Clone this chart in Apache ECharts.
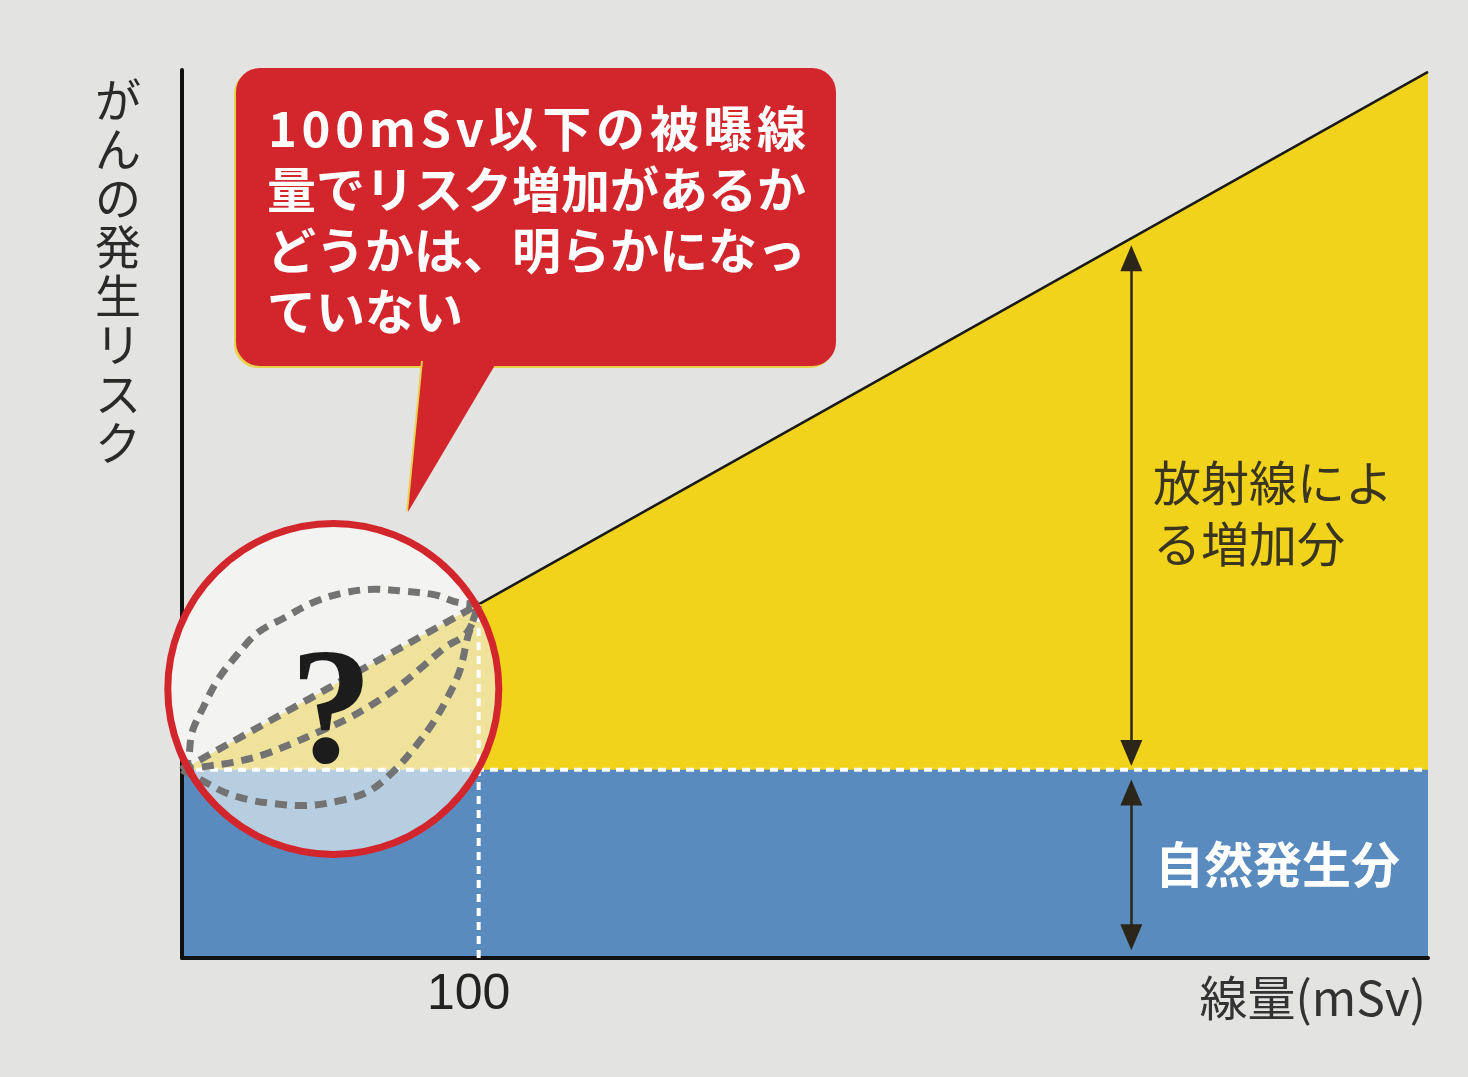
<!DOCTYPE html>
<html><head><meta charset="utf-8">
<script src="https://cdn.jsdelivr.net/npm/echarts@6/dist/echarts.min.js"></script>
<style>html,body{margin:0;padding:0;background:#e3e3e1}#chart{width:1468px;height:1077px}</style>
</head><body><div id="chart"></div>
<script>
// ---------------- data ----------------
const doseTickValues = [100];
const doseMin = 0, doseMax = 420;
const riskMin = 0, riskMax = 4.72;
const naturalDose = [0, 420];
const naturalRisk = [1, 1];
const lntDose = [0, 100, 420];
const lntRisk = [1, 1.88, 4.71];
const thresholdDose = [100, 100];
const thresholdRisk = [0, 1.88];
// low-dose model curves inside the magnifier
const supraDose = [0, 2, 3.4, 7.1, 12.1, 18.5, 25.6, 34.7, 44.2, 54.3, 65, 74.5, 85.3, 93, 100];
const supraRisk = [1, 1.05, 1.2, 1.33, 1.48, 1.61, 1.73, 1.81, 1.89, 1.94, 1.96, 1.95, 1.93, 1.89, 1.88];
const lowLntDose = [0, 100];
const lowLntRisk = [1, 1.88];
const subDose = [0, 8.8, 17.2, 27.3, 37.1, 45.8, 55.6, 64.4, 72.8, 81.2, 88.6, 96.1, 100];
const subRisk = [1, 1.02, 1.04, 1.08, 1.14, 1.2, 1.27, 1.35, 1.44, 1.55, 1.65, 1.73, 1.88];
const hormDose = [0, 8.4, 14.5, 22.9, 31.3, 40.8, 54.3, 63.4, 71.8, 78.5, 84.6, 89.7, 93.7, 96.4, 100];
const hormRisk = [1, 0.93, 0.88, 0.84, 0.82, 0.81, 0.84, 0.89, 1.0, 1.12, 1.25, 1.39, 1.53, 1.71, 1.88];
// double arrows (symbol centres)
const arrowDose = 320;
const excessArrowRisk = [3.72, 1.09];
const naturalArrowRisk = [0.88, 0.11];
// texts
const yTitle = 'がんの発生リスク';
const xTitle = '線量(mSv)';
const bubbleFirstLine = '100mSv以下の被曝線';
const bubbleLines = ['量でリスク増加があるか', 'どうかは、明らかになっ', 'ていない'];
const excessLabel = ['放射線によ', 'る増加分'];
const naturalLabel = '自然発生分';
const questionMark = '?';

// ---------------- layout / style ----------------
const magnifierCenter = [51, 1.43];
const magnifierR = 165.5;
const YELLOW = '#f2d31c', BLUE = '#5a8bbf', RED = '#d3262c';
const FONT = '"Noto Sans CJK JP", "Noto Sans", sans-serif';

const zip = (a, b) => a.map((v, i) => [v, b[i]]);

function clipPoly(poly, f) {
  const out = [];
  for (let i = 0; i < poly.length; i++) {
    const a = poly[i], b = poly[(i + 1) % poly.length];
    const fa = f(a), fb = f(b);
    if (fa >= 0) out.push(a);
    if ((fa >= 0) !== (fb >= 0)) {
      const t = fa / (fa - fb);
      out.push([a[0] + t * (b[0] - a[0]), a[1] + t * (b[1] - a[1])]);
    }
  }
  return out;
}

const chart = echarts.init(document.getElementById('chart'), null, {renderer: 'canvas'});

const dashedCurve = (d, r) => ({
  type: 'line', data: zip(d, r), smooth: 0.35, symbol: 'none', z: 7, silent: true,
  lineStyle: {color: '#737373', width: 7, type: [12, 8]}
});

const bubbleTextStyle = {fontSize: 49, fontWeight: 'bold', fontFamily: FONT, fill: '#ffffff',
  textShadowColor: '#efe060', textShadowOffsetX: -1.5, textShadowOffsetY: 1.5};

const graphics = [
  {type: 'rect', z: 100, shape: {x: 236, y: 68, width: 600, height: 298, r: 24},
    style: {fill: RED, shadowColor: '#e9d24a', shadowOffsetX: -2, shadowOffsetY: 2, shadowBlur: 0}},
  {type: 'polygon', z: 100, shape: {points: [[423, 360], [498, 360], [408, 512]]},
    style: {fill: RED, shadowColor: '#e9d24a', shadowOffsetX: -2, shadowOffsetY: 1, shadowBlur: 0}},
  {type: 'text', z: 101, x: 267, y: 159,
    style: Object.assign({text: bubbleLines.join('\n'), lineHeight: 61, align: 'left', verticalAlign: 'top'}, bubbleTextStyle)},
  {type: 'text', z: 50, x: 118, y: 75,
    style: {text: yTitle.split('').join('\n'), fontSize: 46, lineHeight: 49,
      fontFamily: FONT, fill: '#2a2a2a', align: 'center', verticalAlign: 'top'}},
  {type: 'text', z: 50, x: 1426, y: 998,
    style: {text: xTitle, fontSize: 48, fontFamily: FONT, fill: '#333333',
      align: 'right', verticalAlign: 'middle'}},
  {type: 'text', z: 50, x: 1153, y: 452,
    style: {text: excessLabel.join('\n'), fontSize: 48, lineHeight: 61,
      fontFamily: FONT, fill: '#3a3520', align: 'left', verticalAlign: 'top'}},
  {type: 'text', z: 50, x: 1155, y: 864,
    style: {text: naturalLabel, fontSize: 49, fontWeight: 'bold',
      fontFamily: FONT, fill: '#ffffff', align: 'left', verticalAlign: 'middle'}}
];
// first bubble line is justified between the text margins
(function () {
  const ctx = document.createElement('canvas').getContext('2d');
  ctx.font = 'bold 49px "Noto Sans CJK JP"';
  const chars = bubbleFirstLine.split('');
  const widths = chars.map(ch => ctx.measureText(ch).width);
  const total = widths.reduce((s, w) => s + w, 0);
  const x0 = 268, x1 = 806;
  const gap = (x1 - x0 - total) / (chars.length - 1);
  let x = x0;
  chars.forEach((ch, i) => {
    graphics.push({type: 'text', z: 101, x: x, y: 128,
      style: Object.assign({text: ch, align: 'left', verticalAlign: 'middle'}, bubbleTextStyle)});
    x += widths[i] + gap;
  });
})();

const option = {
  backgroundColor: '#e3e3e1',
  animation: false,
  textStyle: {fontFamily: FONT},
  grid: {left: 182, right: 40, top: 70, bottom: 119},
  xAxis: {
    type: 'value', min: doseMin, max: doseMax, z: 4,
    axisLine: {show: true, lineStyle: {color: '#111', width: 4}},
    axisTick: {show: false}, splitLine: {show: false},
    axisLabel: {customValues: doseTickValues, fontSize: 50, color: '#222', margin: 12,
      fontFamily: '"Liberation Sans", sans-serif', padding: [0, 20, 0, 0]}
  },
  yAxis: {
    type: 'value', min: riskMin, max: riskMax, z: 4,
    axisLine: {show: true, onZero: false, lineStyle: {color: '#111', width: 4}},
    axisTick: {show: false}, splitLine: {show: false}, axisLabel: {show: false}
  },
  series: [
    {type: 'line', data: zip(lntDose, lntRisk), symbol: 'none', z: 1, silent: true,
      lineStyle: {color: '#1a1a1a', width: 2.5}, areaStyle: {color: YELLOW, opacity: 1}},
    {type: 'line', data: zip(naturalDose, naturalRisk), symbol: 'none', z: 2, silent: true,
      lineStyle: {width: 0}, areaStyle: {color: BLUE, opacity: 1}},
    {type: 'custom', z: 5, clip: false, silent: true, data: [magnifierCenter],
      renderItem: function (params, api) {
        const c = api.coord([api.value(0), api.value(1)]);
        const O = api.coord([lntDose[0], lntRisk[0]]);
        const E = api.coord([lntDose[2], lntRisk[2]]);
        const base = O[1];
        const circle = [];
        for (let i = 0; i < 360; i++) {
          const a = i / 360 * Math.PI * 2;
          circle.push([c[0] + magnifierR * Math.cos(a), c[1] + magnifierR * Math.sin(a)]);
        }
        const lineY = x => O[1] + (E[1] - O[1]) * (x - O[0]) / (E[0] - O[0]);
        const yel = clipPoly(clipPoly(circle, p => base - p[1]), p => p[1] - lineY(p[0]));
        const blu = clipPoly(circle, p => p[1] - base);
        return {type: 'group', children: [
          {type: 'polygon', shape: {points: circle}, style: {fill: '#f3f3f1'}},
          {type: 'polygon', shape: {points: yel}, style: {fill: '#efe39b'}},
          {type: 'polygon', shape: {points: blu}, style: {fill: '#b7cee0'}}
        ]};
      }},
    {type: 'line', data: zip(naturalDose, naturalRisk), symbol: 'none', z: 6, silent: true,
      lineStyle: {color: '#ffffff', width: 4, type: [8, 6]},
      markLine: {
        silent: true, symbol: ['triangle', 'triangle'], symbolSize: [22, 26],
        label: {show: false},
        lineStyle: {color: '#2b2618', width: 2.5, type: 'solid'},
        data: [
          [{coord: [arrowDose, excessArrowRisk[0]]}, {coord: [arrowDose, excessArrowRisk[1]]}],
          [{coord: [arrowDose, naturalArrowRisk[0]]}, {coord: [arrowDose, naturalArrowRisk[1]]}]
        ]
      }},
    {type: 'line', data: zip(thresholdDose, thresholdRisk), symbol: 'none', z: 6, silent: true,
      lineStyle: {color: '#ffffff', width: 4, type: [8, 6]}},
    dashedCurve(supraDose, supraRisk),
    dashedCurve(lowLntDose, lowLntRisk),
    dashedCurve(subDose, subRisk),
    dashedCurve(hormDose, hormRisk),
    {type: 'custom', z: 9, clip: false, silent: true, data: [magnifierCenter],
      renderItem: function (params, api) {
        const c = api.coord([api.value(0), api.value(1)]);
        return {type: 'group', children: [
          {type: 'text', x: c[0] - 2, y: c[1] + 30,
            style: {text: questionMark, fontSize: 165, fontWeight: 'bold',
              fontFamily: '"Liberation Serif", "DejaVu Serif", serif',
              fill: '#1c1c1c', align: 'center', verticalAlign: 'middle'}},
          {type: 'circle', shape: {cx: c[0], cy: c[1], r: magnifierR},
            style: {fill: 'none', stroke: RED, lineWidth: 7}}
        ]};
      }}
  ],
  graphic: graphics
};
chart.setOption(option);
</script>
</body></html>
